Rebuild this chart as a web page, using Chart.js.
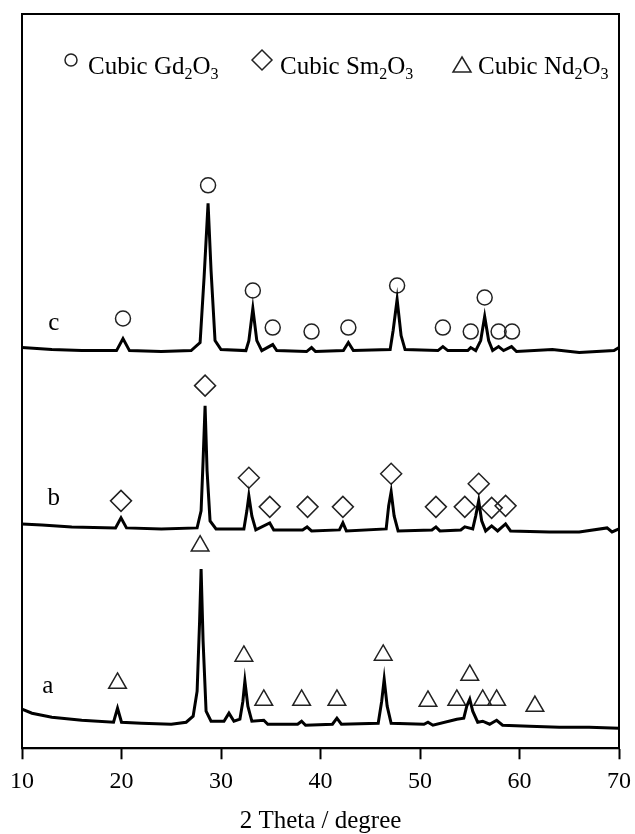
<!DOCTYPE html>
<html lang="en">
<head>
    <meta charset="UTF-8">
    <title>XRD patterns</title>
    <script src="https://cdn.jsdelivr.net/npm/chart.js@4.4.1/dist/chart.umd.min.js"></script>
    <style>
        body { margin: 0; background: #fff; }
        #wrap { width: 635px; height: 834px; }
    </style>
</head>
<body>
    <div id="wrap"><canvas id="myChart"></canvas></div>

    <script>
        // 2 theta / intensity (arb. units, traces stacked with offsets)
        const thetaC = [10.0, 13, 16, 19.5, 20.15, 20.8, 24, 27.0, 27.9, 28.3, 28.7, 29.0, 29.4, 30, 32.5, 32.8, 33.2, 33.6, 34.1, 35.2, 35.6, 38.6, 39.1, 39.5, 42.3, 42.8, 43.3, 47.0, 47.3, 47.7, 48.1, 48.5, 51.8, 52.3, 52.8, 54.8, 55.1, 55.6, 56.1, 56.5, 56.9, 57.3, 57.9, 58.4, 59.2, 59.7, 63.3, 66, 69.5, 70]
        const intensC = [400, 398, 397, 397, 409, 397, 396, 397, 405, 470, 544, 477, 407, 398, 397, 407, 439, 407, 397, 403, 397, 396, 400, 396, 397, 405, 397, 398, 417, 448, 412, 398, 397, 401, 397, 397, 400, 397, 407, 431, 407, 397, 401, 397, 401, 396, 398, 395, 397, 400]

        const thetaB = [10.0, 12, 15, 19.4, 19.95, 20.5, 24, 27.6, 28.0, 28.2, 28.4, 28.6, 28.9, 29.5, 32.3, 32.6, 32.8, 33.1, 33.5, 34.9, 35.3, 38.2, 38.65, 39.1, 41.9, 42.25, 42.6, 46.6, 46.85, 47.1, 47.4, 47.8, 51.2, 51.6, 52, 54.1, 54.5, 55.3, 55.6, 55.9, 56.2, 56.6, 57.2, 57.8, 58.6, 59.1, 63, 66, 68.8, 69.3, 70]
        const intensB = [224, 223, 221, 220, 230, 220, 219, 220, 237, 287, 342, 277, 227, 219, 219, 237, 252, 232, 218, 225, 218, 218, 221, 217, 218, 225, 217, 219, 242, 256, 232, 217, 218, 221, 217, 218, 221, 219, 232, 247, 227, 217, 222, 217, 224, 217, 216, 216, 220, 216, 219]

        const thetaA = [10.0, 11, 13, 16, 19.2, 19.6, 20.0, 22, 25, 26.5, 27.2, 27.6, 27.85, 28.0, 28.2, 28.5, 29, 30.3, 30.8, 31.3, 31.9, 32.2, 32.4, 32.7, 33.1, 34.3, 34.7, 37.7, 38.1, 38.5, 41.2, 41.65, 42.1, 45.8, 46.15, 46.4, 46.7, 47.1, 50.4, 50.8, 51.3, 53.7, 54.4, 54.7, 55.0, 55.3, 55.8, 56.3, 57.0, 57.7, 58.3, 61, 64, 67, 70]
        const intensA = [39, 35, 31, 28, 26, 40, 26, 25, 24, 26, 32, 57, 127, 179, 107, 37, 27, 27, 35, 27, 29, 47, 67, 42, 27, 28, 24, 24, 27, 23, 24, 30, 24, 25, 47, 69, 42, 25, 24, 26, 23, 29, 30, 42, 49, 37, 26, 27, 24, 28, 23, 22, 21, 21, 20]

        // phase markers
        const gdTheta = [20.15, 28.7, 33.2, 35.2, 39.1, 42.8, 47.7, 52.3, 55.1, 56.5, 57.9, 59.25]
        const gdLevel = [429, 562, 457, 420, 416, 420, 462, 420, 416, 450, 416, 416]
        const smTheta = [19.95, 28.4, 32.8, 34.9, 38.7, 42.25, 47.1, 51.6, 54.5, 55.9, 57.2, 58.6]
        const smLevel = [247, 362, 270, 241, 241, 241, 274, 241, 241, 264, 240, 242]
        const ndTheta = [19.6, 27.9, 32.3, 34.3, 38.1, 41.65, 46.3, 50.8, 53.7, 55.0, 56.3, 57.7, 61.55]
        const ndLevel = [65, 202, 92, 48, 48, 48, 93, 47, 48, 73, 48, 48, 42]

        const sampleNames = ['a', 'b', 'c']
        const sampleTheta = [12.6, 13.2, 13.2]
        const sampleLevel = [62, 249, 424]

        const xTicks = [10, 20, 30, 40, 50, 60, 70]

        const serif = "'Liberation Serif', 'Times New Roman', serif"

        function pts(xs, ys) {
            return xs.map((x, i) => ({ x: x, y: ys[i] }))
        }

        function trace(xs, ys) {
            return {
                type: 'line',
                data: pts(xs, ys),
                borderColor: '#000',
                borderWidth: 3,
                pointRadius: 0,
                tension: 0,
                fill: false
            }
        }

        function marks(xs, ys, style, r) {
            return {
                type: 'scatter',
                data: pts(xs, ys),
                pointStyle: style,
                pointRadius: r,
                pointBorderColor: '#222',
                pointBackgroundColor: 'rgba(0,0,0,0)',
                pointBorderWidth: 1.5
            }
        }

        // frame, sample letters and legend with subscripts
        const extras = {
            id: 'extras',
            afterDraw(chart) {
                const ctx = chart.ctx
                const a = chart.chartArea
                const xs = chart.scales.x, ys = chart.scales.y
                ctx.save()
                ctx.strokeStyle = '#000'
                ctx.lineWidth = 2
                ctx.strokeRect(a.left, a.top, a.right - a.left, a.bottom - a.top)

                ctx.fillStyle = '#000'
                ctx.font = '25px ' + serif
                ctx.textAlign = 'center'
                ctx.textBaseline = 'middle'
                sampleNames.forEach((n, i) => {
                    ctx.fillText(n, xs.getPixelForValue(sampleTheta[i]), ys.getPixelForValue(sampleLevel[i]))
                })

                function formula(x, y, parts) {
                    ctx.textAlign = 'left'
                    ctx.textBaseline = 'alphabetic'
                    parts.forEach(p => {
                        if (p.sub) {
                            ctx.font = '16px ' + serif
                            ctx.fillText(p.t, x, y + 5)
                        } else {
                            ctx.font = '25px ' + serif
                            ctx.fillText(p.t, x, y)
                        }
                        x += ctx.measureText(p.t).width
                    })
                }
                ctx.lineWidth = 1.5
                ctx.strokeStyle = '#222'
                // circle
                ctx.beginPath(); ctx.arc(71, 60, 6, 0, Math.PI * 2); ctx.stroke()
                formula(88, 74, [{ t: 'Cubic Gd' }, { t: '2', sub: 1 }, { t: 'O' }, { t: '3', sub: 1 }])
                // diamond
                ctx.beginPath()
                ctx.moveTo(252, 60); ctx.lineTo(262, 50); ctx.lineTo(272, 60); ctx.lineTo(262, 70); ctx.closePath(); ctx.stroke()
                formula(280, 74, [{ t: 'Cubic Sm' }, { t: '2', sub: 1 }, { t: 'O' }, { t: '3', sub: 1 }])
                // triangle
                ctx.beginPath()
                ctx.moveTo(462, 57); ctx.lineTo(471, 72); ctx.lineTo(453, 72); ctx.closePath(); ctx.stroke()
                formula(478, 74, [{ t: 'Cubic Nd' }, { t: '2', sub: 1 }, { t: 'O' }, { t: '3', sub: 1 }])
                ctx.restore()
            }
        }

        const ctx = document.getElementById('myChart').getContext('2d')
        const myChart = new Chart(ctx, {
            data: {
                datasets: [
                    trace(thetaA, intensA),
                    trace(thetaB, intensB),
                    trace(thetaC, intensC),
                    marks(gdTheta, gdLevel, 'circle', 7.5),
                    marks(smTheta, smLevel, 'rectRot', 10.5),
                    marks(ndTheta, ndLevel, 'triangle', 10.2)
                ]
            },
            options: {
                responsive: true,
                maintainAspectRatio: false,
                animation: false,
                layout: { padding: { left: 22, right: 16, top: 14, bottom: 0 } },
                plugins: {
                    legend: { display: false },
                    tooltip: { enabled: false }
                },
                scales: {
                    x: {
                        type: 'linear',
                        min: 10,
                        max: 70,
                        afterBuildTicks: axis => { axis.ticks = xTicks.map(v => ({ value: v })) },
                        grid: {
                            drawOnChartArea: false,
                            drawTicks: true,
                            tickLength: 11,
                            tickWidth: 2,
                            tickColor: '#000'
                        },
                        border: { color: '#000', width: 2 },
                        ticks: {
                            color: '#000',
                            padding: 4,
                            maxRotation: 0,
                            font: { family: serif, size: 24, lineHeight: 1.53 }
                        },
                        title: {
                            display: true,
                            text: '2 Theta / degree',
                            color: '#000',
                            padding: { top: 5, bottom: 0 },
                            font: { family: serif, size: 25, lineHeight: 1.0 }
                        }
                    },
                    y: {
                        display: false,
                        min: 0,
                        max: 733
                    }
                }
            },
            plugins: [extras]
        })
    </script>
</body>
</html>
